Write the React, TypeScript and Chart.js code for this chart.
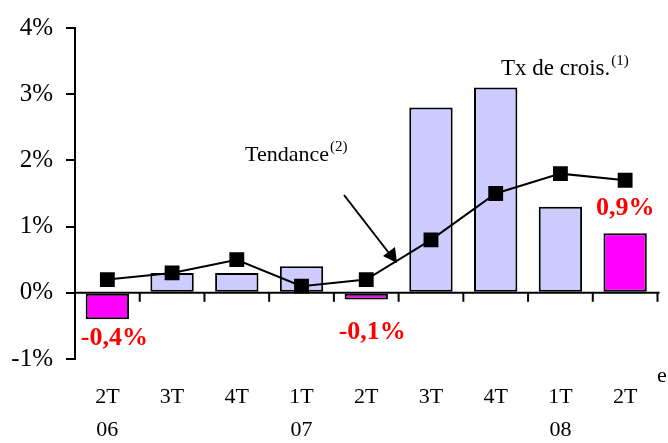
import React, { useEffect, useRef } from "react";
import { Chart, registerables } from "chart.js";

Chart.register(...registerables);

const quarterLabels = ["2T", "3T", "4T", "1T", "2T", "3T", "4T", "1T", "2T"];
const yearLabels = ["06", "", "", "07", "", "", "", "08", ""];
const growthValues = [-0.4, 0.3, 0.3, 0.4, -0.1, 2.8, 3.1, 1.3, 0.9];
const trendValues = [0.2, 0.3, 0.5, 0.1, 0.2, 0.8, 1.5, 1.8, 1.7];
const highlightedBars = [true, false, false, false, true, false, false, false, true];
const valueLabels = ["-0,4%", "", "", "", "-0,1%", "", "", "", "0,9%"];
const yTicks = [-1, 0, 1, 2, 3, 4];

const SERIF = "'Liberation Serif', 'Times New Roman', serif";
const LIGHT = "#CCCCFF";
const MAGENTA = "#FF00FF";

// pixel offsets of the value labels (baseline relative to bar end, x shift)
const labelDy = [26, 0, 0, 0, 40, 0, 0, 0, -18];
const labelDx = [7, 0, 0, 0, 6, 0, 0, 0, 0];

const overlayPlugin = {
  id: "overlay",
  afterDatasetsDraw(chart: any) {
    const { ctx, scales } = chart;
    const x = scales.x;
    const y = scales.y;
    const y0 = y.getPixelForValue(0);
    ctx.save();
    ctx.strokeStyle = "#000";
    ctx.lineWidth = 2;
    ctx.beginPath();
    ctx.moveTo(chart.chartArea.left, y0);
    ctx.lineTo(chart.chartArea.right + 2, y0);
    ctx.stroke();
    const n = quarterLabels.length;
    const step = (x.getPixelForValue(n - 1) - x.getPixelForValue(0)) / (n - 1);
    for (let i = 0; i <= n; i++) {
      const px = x.getPixelForValue(0) - step / 2 + i * step;
      ctx.beginPath();
      ctx.moveTo(px, y0);
      ctx.lineTo(px, y0 + 9);
      ctx.stroke();
    }
    ctx.fillStyle = "#FF0000";
    ctx.font = `bold 26px ${SERIF}`;
    ctx.textAlign = "center";
    ctx.textBaseline = "alphabetic";
    valueLabels.forEach((lab, i) => {
      if (!lab) return;
      const v = growthValues[i];
      ctx.fillText(lab, x.getPixelForValue(i) + labelDx[i], y.getPixelForValue(v) + labelDy[i]);
    });
    ctx.fillStyle = "#000";
    ctx.textAlign = "left";
    const drawSup = (main: string, sup: string, tx: number, ty: number, size: number) => {
      ctx.font = `${size}px ${SERIF}`;
      ctx.fillText(main, tx, ty);
      const w = ctx.measureText(main).width;
      ctx.font = `15px ${SERIF}`;
      ctx.fillText(sup, tx + w + 1, ty - 10);
    };
    drawSup("Tx de crois.", "(1)", 501, 75, 23);
    drawSup("Tendance", "(2)", 245, 161, 22);
    ctx.lineWidth = 2;
    ctx.beginPath();
    ctx.moveTo(344, 195);
    ctx.lineTo(392, 257);
    ctx.stroke();
    ctx.beginPath();
    ctx.moveTo(397, 263);
    ctx.lineTo(383, 256);
    ctx.lineTo(395, 247);
    ctx.closePath();
    ctx.fill();
    ctx.font = `22px ${SERIF}`;
    ctx.fillText("e", 657, 382);
    ctx.restore();
  },
};

export default function App() {
  const ref = useRef<HTMLCanvasElement | null>(null);
  useEffect(() => {
    if (!ref.current) return;
    const chart = new Chart(ref.current, {
      data: {
        labels: quarterLabels.map((q, i) => [q, yearLabels[i]]),
        datasets: [
          {
            type: "line",
            label: "Tendance",
            data: trendValues,
            borderColor: "#000",
            borderWidth: 2,
            backgroundColor: "#000",
            pointStyle: "rect",
            pointRadius: 10.5,
            pointBorderWidth: 0,
            tension: 0,
            order: 0,
          },
          {
            type: "bar",
            label: "Tx de crois.",
            data: growthValues,
            backgroundColor: highlightedBars.map((h) => (h ? MAGENTA : LIGHT)),
            borderColor: "#000",
            borderWidth: 2,
            borderSkipped: false,
            categoryPercentage: 1,
            barPercentage: 0.67,
            order: 1,
          },
        ],
      },
      options: {
        animation: false,
        responsive: false,
        maintainAspectRatio: false,
        layout: { padding: { top: 26, right: 0, bottom: 0, left: 0 } },
        plugins: { legend: { display: false }, tooltip: { enabled: false } },
        scales: {
          x: {
            type: "category",
            offset: true,
            grid: { display: false, drawTicks: false },
            border: { display: false },
            afterFit: (scale: any) => {
              scale.height = 84;
            },
            ticks: {
              color: "#000",
              font: { family: SERIF, size: 22, lineHeight: 1.5 },
              padding: 22,
              maxRotation: 0,
              autoSkip: false,
            },
          },
          y: {
            min: -1,
            max: 4,
            afterBuildTicks: (scale: any) => {
              scale.ticks = yTicks.map((v) => ({ value: v }));
            },
            afterFit: (scale: any) => {
              scale.width = 75;
            },
            grid: {
              display: true,
              drawOnChartArea: false,
              drawTicks: true,
              tickLength: 9,
              color: "#000",
              lineWidth: 2,
            },
            border: { display: true, color: "#000", width: 2 },
            ticks: {
              color: "#000",
              font: { family: SERIF, size: 25 },
              padding: 13,
              callback: (v: any) => `${v}%`,
            },
          },
        },
      },
      plugins: [overlayPlugin],
    } as any);
    return () => chart.destroy();
  }, []);
  return (
    <div style={{ position: "absolute", left: 0, top: 0, width: 668, height: 443, background: "#fff" }}>
      <canvas ref={ref} width={668} height={443} style={{ width: 668, height: 443 }} />
    </div>
  );
}
